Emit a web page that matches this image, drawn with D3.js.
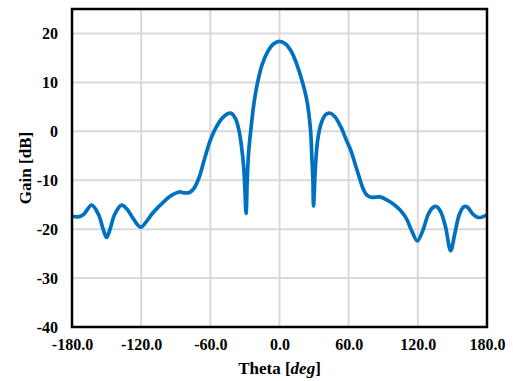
<!DOCTYPE html>
<html>
<head>
<meta charset="utf-8">
<script src="https://cdn.jsdelivr.net/npm/d3@7"></script>
<style>
  body { margin: 0; background: #fff; }
  text { font-family: "Liberation Serif", "Times New Roman", serif; font-weight: bold; fill: #000; }
</style>
</head>
<body>
<div id="chart"></div>
<script>
const theta = [-180, -175, -170, -163, -157, -153, -150, -147, -143, -137, -132, -127, -120.5, -115, -110, -100, -93, -87, -82, -78, -74, -70, -65, -60, -55, -50, -45, -42, -38, -35, -33, -31, -30, -29, -28, -27, -25, -22, -19, -15, -10, -5, 0, 5, 10, 15, 20, 24, 27, 28, 29, 29.5, 31, 33, 36, 40, 44, 48, 53, 58, 62, 66, 70, 73, 76, 80, 87, 93, 99, 105, 110, 115, 119.5, 124, 129, 133, 136.5, 140, 144, 148.5, 152, 156, 160, 163, 168, 172, 176, 180];
const gain = [-17.3, -17.5, -17.0, -15.1, -17.0, -20.0, -21.7, -20.0, -17.0, -15.1, -16.0, -17.8, -19.6, -18.3, -16.7, -14.3, -13.0, -12.4, -12.6, -12.5, -11.6, -9.6, -5.6, -1.8, 0.8, 2.6, 3.6, 3.7, 2.5, 0.0, -3.0, -7.5, -12.0, -16.8, -10.0, -5.0, 0.0, 6.0, 10.0, 13.7, 16.4, 17.9, 18.4, 17.9, 16.4, 13.7, 10.0, 6.0, 0.0, -5.0, -10.0, -15.3, -8.0, -2.0, 1.5, 3.4, 3.7, 3.0, 1.0, -1.8, -4.0, -7.0, -10.0, -12.0, -13.1, -13.5, -13.4, -14.0, -14.9, -16.2, -17.8, -20.5, -22.4, -20.5, -17.0, -15.6, -15.4, -16.5, -19.5, -24.4, -21.0, -17.0, -15.4, -15.5, -17.0, -17.6, -17.5, -17.1];
const xTicks = [-180, -120, -60, 0, 60, 120, 180];
const yTicks = [-40, -30, -20, -10, 0, 10, 20];

const w = 513, h = 381;
const m = { top: 9, right: 26, bottom: 54, left: 72 };

const svg = d3.select('#chart').append('svg')
  .attr('width', w).attr('height', h);

const x = d3.scaleLinear().domain([-180, 180]).range([m.left, w - m.right]);
const y = d3.scaleLinear().domain([-40, 25]).range([h - m.bottom, m.top]);

// grid
svg.append('g').selectAll('line').data(xTicks.slice(1, -1)).enter().append('line')
  .attr('x1', d => x(d)).attr('x2', d => x(d))
  .attr('y1', y(25)).attr('y2', y(-40))
  .attr('stroke', '#d9d9d9').attr('stroke-width', 2);
svg.append('g').selectAll('line').data(yTicks.slice(1)).enter().append('line')
  .attr('x1', x(-180)).attr('x2', x(180))
  .attr('y1', d => y(d)).attr('y2', d => y(d))
  .attr('stroke', '#d9d9d9').attr('stroke-width', 2);

// data line
const pts = theta.map((t, i) => [t, gain[i]]);
svg.append('path').datum(pts)
  .attr('fill', 'none')
  .attr('stroke', '#0070c0')
  .attr('stroke-width', 3.7)
  .attr('stroke-linejoin', 'round')
  .attr('d', d3.line().x(d => x(d[0])).y(d => y(d[1])).curve(d3.curveCatmullRom.alpha(0.5)));

// frame
svg.append('rect')
  .attr('x', x(-180)).attr('y', y(25))
  .attr('width', x(180) - x(-180)).attr('height', y(-40) - y(25))
  .attr('fill', 'none').attr('stroke', '#000').attr('stroke-width', 2.5);

// axes (plain hyphen minus like the original)
const xAxis = d3.axisBottom(x).tickValues(xTicks)
  .tickFormat(d => d.toFixed(1)).tickSize(0).tickPadding(12);
const yAxis = d3.axisLeft(y).tickValues(yTicks)
  .tickFormat(d => String(d)).tickSize(0).tickPadding(14);

svg.append('g').attr('transform', 'translate(0,' + (h - m.bottom) + ')').call(xAxis)
  .call(g => g.select('.domain').remove())
  .selectAll('text').style('font-size', '16px').attr('font-family', null);
svg.append('g').attr('transform', 'translate(' + m.left + ',0)').call(yAxis)
  .call(g => g.select('.domain').remove())
  .selectAll('text').style('font-size', '16px').attr('font-family', null);

// titles
const xt = svg.append('text')
  .attr('x', (x(-180) + x(180)) / 2).attr('y', 374)
  .attr('text-anchor', 'middle').style('font-size', '17px');
xt.append('tspan').text('Theta [');
xt.append('tspan').style('font-style', 'italic').text('deg');
xt.append('tspan').text(']');

svg.append('text')
  .attr('transform', 'translate(31,' + ((y(25) + y(-40)) / 2) + ') rotate(-90)')
  .attr('text-anchor', 'middle').style('font-size', '17px')
  .text('Gain [dB]');
</script>
</body>
</html>
